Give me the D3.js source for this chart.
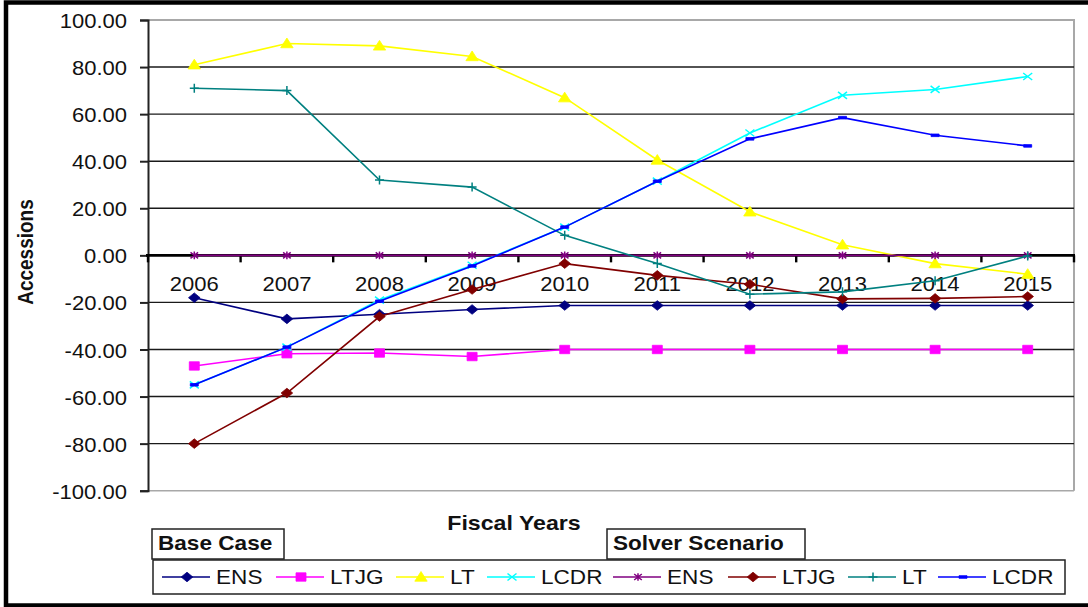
<!DOCTYPE html>
<html>
<head>
<meta charset="utf-8">
<script src="https://cdn.jsdelivr.net/npm/d3@7"></script>
<style>
  html, body { margin: 0; padding: 0; background: #fff; }
  svg { display: block; }
  text { font-family: Arial, "Liberation Sans", sans-serif; fill: #111; }
</style>
</head>
<body>
<svg id="chart" width="1088" height="607"></svg>
<script>
// Fiscal years on the category axis
const years = ["2006", "2007", "2008", "2009", "2010", "2011", "2012", "2013", "2014", "2015"];

// Base Case accessions by grade
const baseENS  = [-18, -27, -25, -23, -21.3, -21.3, -21.3, -21.3, -21.3, -21.3];
const baseLTJG = [-47, -41.8, -41.5, -43, -40, -40, -40, -40, -40, -40];
const baseLT   = [81, 90, 89, 84.5, 67, 40.5, 18.5, 4.5, -3.5, -8];
const baseLCDR = [-55, -39, -19, -4.2, 12, 31.5, 52, 68, 70.5, 76];

// Solver Scenario accessions by grade
const solverENS  = [0, 0, 0, 0, 0, 0, 0, 0, 0, 0];
const solverLTJG = [-80, -58.5, -26, -14.5, -3.5, -8.5, -12.3, -18.5, -18.3, -17.5];
const solverLT   = [71, 70, 32, 29, 8.5, -3.5, -16.5, -15.5, -10.8, -0.3];
const solverLCDR = [-55, -39, -19.5, -4.5, 12, 31.5, 49.5, 58.5, 51, 46.5];

// Value axis ticks
const yTicks = [100, 80, 60, 40, 20, 0, -20, -40, -60, -80, -100];

const series = [
  { name: "ENS",  values: baseENS,    color: "#000080", marker: "diamond" },
  { name: "LTJG", values: baseLTJG,   color: "#FF00FF", marker: "square" },
  { name: "LT",   values: baseLT,     color: "#FFFF00", marker: "triangle" },
  { name: "LCDR", values: baseLCDR,   color: "#00FFFF", marker: "cross" },
  { name: "ENS",  values: solverENS,  color: "#800080", marker: "star" },
  { name: "LTJG", values: solverLTJG, color: "#800000", marker: "diamond" },
  { name: "LT",   values: solverLT,   color: "#008080", marker: "plus" },
  { name: "LCDR", values: solverLCDR, color: "#0000FF", marker: "dash" }
];

const svg = d3.select("#chart");
const SX = 1.13; // horizontal stretch of the lettering

const plot = { left: 148, right: 1074, top: 20, bottom: 490.7 };

const x = d3.scaleBand().domain(years).range([plot.left, plot.right]).padding(0);
const y = d3.scaleLinear().domain([-100, 100]).range([plot.bottom, plot.top]);
const cx = d => x(d) + x.bandwidth() / 2;
const fmt = v => d3.format(".2f")(v).replace("\u2212", "-");

function label(g, tx, ty, str, opts = {}) {
  const t = g.append("g").attr("transform", `translate(${tx},${ty}) scale(${SX},1)`)
    .append("text")
    .attr("text-anchor", opts.anchor || "start")
    .attr("dominant-baseline", "central")
    .style("font-size", (opts.size || 19.5) + "px")
    .style("font-weight", opts.bold ? "bold" : "normal")
    .text(str);
  return t;
}

// Outer frame (top, left, bottom)
svg.append("rect").attr("x", 6).attr("y", 2.5).attr("width", 1100).attr("height", 603)
  .attr("fill", "none").attr("stroke", "#000").attr("stroke-width", 4.5);

// Plot frame: light gray top and right edges
svg.append("path")
  .attr("d", `M${plot.left},${plot.top}H${plot.right}V${plot.bottom}`)
  .attr("fill", "none").attr("stroke", "#a8a8a8").attr("stroke-width", 2);

// Horizontal gridlines
svg.append("g").selectAll("line").data(yTicks.filter(v => v !== 100 && v !== -100 && v !== 0))
  .join("line")
  .attr("x1", plot.left).attr("x2", plot.right)
  .attr("y1", d => y(d)).attr("y2", d => y(d))
  .attr("stroke", "#1a1a1a").attr("stroke-width", 1.4);

// Bottom edge of plot
svg.append("line").attr("x1", plot.left).attr("x2", plot.right)
  .attr("y1", y(-100)).attr("y2", y(-100)).attr("stroke", "#a8a8a8").attr("stroke-width", 1.4);

// Value axis
const yAxis = svg.append("g").attr("transform", `translate(${plot.left},0)`)
  .call(d3.axisLeft(y).tickValues(yTicks).tickSize(8).tickFormat(""));
yAxis.select(".domain").attr("stroke", "#222").attr("stroke-width", 2);
yAxis.selectAll(".tick line").attr("stroke", "#222").attr("stroke-width", 2);

yTicks.forEach(v => label(svg, 127, y(v) + 1, fmt(v), { anchor: "end" }));

// Category axis crossing at zero
const xAxisLine = svg.append("g");
xAxisLine.append("line").attr("x1", plot.left - 2).attr("x2", plot.right + 1)
  .attr("y1", y(0)).attr("y2", y(0)).attr("stroke", "#000").attr("stroke-width", 2.6);
const bounds = years.map(d => x(d)).concat([plot.right]);
xAxisLine.selectAll("line.tk").data(bounds).join("line").attr("class", "tk")
  .attr("x1", d => d).attr("x2", d => d)
  .attr("y1", y(0)).attr("y2", y(0) + 7)
  .attr("stroke", "#000").attr("stroke-width", 2.4);

years.forEach(d => label(svg, cx(d), y(0) + 28.5, d, { anchor: "middle" }));

// Axis titles
svg.append("g").attr("transform", `translate(26,252) rotate(-90) scale(1,${SX})`)
  .append("text").attr("text-anchor", "middle").attr("dominant-baseline", "central")
  .style("font-size", "19px").style("font-weight", "bold").text("Accessions");
label(svg, 514, 523, "Fiscal Years", { anchor: "middle", bold: true, size: 20.5 });

// Marker shapes
function markerPath(kind) {
  switch (kind) {
    case "diamond":  return "M0,-4.8L5.8,0L0,4.8L-5.8,0Z";
    case "square":   return "M-5,-4.2H5V4.2H-5Z";
    case "triangle": return "M0,-5.5L6.2,4.2L-6.2,4.2Z";
    case "cross":    return "M-4.5,-3.5L4.5,3.5M-4.5,3.5L4.5,-3.5";
    case "star":     return "M-3.8,-3L3.8,3M-3.8,3L3.8,-3M0,-3.8V3.8";
    case "plus":     return "M-4.5,0H4.5M0,-4.5V4.5";
    case "dash":     return "M-4,-1.3H4V1.3H-4Z";
  }
}
const filled = k => ["diamond", "square", "triangle", "dash"].includes(k);

function drawMarker(g, kind, color, tx, ty) {
  g.append("path").attr("d", markerPath(kind))
    .attr("transform", `translate(${tx},${ty})`)
    .attr("fill", filled(kind) ? color : "none")
    .attr("stroke", color).attr("stroke-width", filled(kind) ? 0.8 : 1.5);
}

// Series lines and markers
const line = d3.line().x((v, i) => cx(years[i])).y(v => y(v));
series.forEach(s => {
  const g = svg.append("g");
  g.append("path").datum(s.values).attr("d", line)
    .attr("fill", "none").attr("stroke", s.color).attr("stroke-width", 1.6);
  s.values.forEach((v, i) => drawMarker(g, s.marker, s.color, cx(years[i]), y(v)));
});

// Legend
const legend = svg.append("g");
legend.append("rect").attr("x", 153).attr("y", 560).attr("width", 912).attr("height", 34)
  .attr("fill", "#fff").attr("stroke", "#222").attr("stroke-width", 1.5);

const groupBoxes = [
  { text: "Base Case", x: 152, w: 132 },
  { text: "Solver Scenario", x: 607, w: 198 }
];
groupBoxes.forEach(b => {
  legend.append("rect").attr("x", b.x).attr("y", 529).attr("width", b.w).attr("height", 30)
    .attr("fill", "#fff").attr("stroke", "#222").attr("stroke-width", 1.5);
  label(legend, b.x + 6, 543, b.text, { bold: true, size: 20 });
});

const legendX = [162, 276, 396, 487, 613, 728, 848, 938];
series.forEach((s, i) => {
  const lx = legendX[i];
  legend.append("line").attr("x1", lx).attr("x2", lx + 48).attr("y1", 577).attr("y2", 577)
    .attr("stroke", s.color).attr("stroke-width", 1.6);
  drawMarker(legend, s.marker, s.color, lx + 25, 577);
  label(legend, lx + 54, 577, s.name, { size: 20 });
});
</script>
</body>
</html>
